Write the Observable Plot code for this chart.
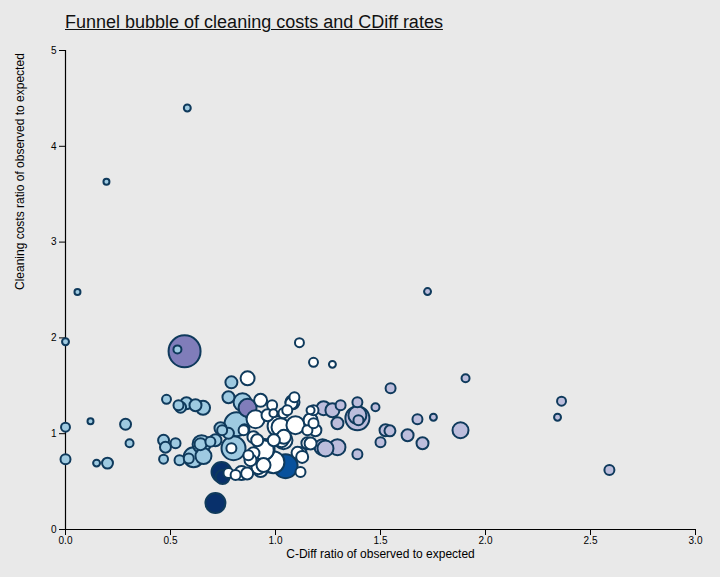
<!DOCTYPE html>
<html>
<head>
<meta charset="utf-8">
<script src="https://cdn.jsdelivr.net/npm/d3@7"></script>
<script src="https://cdn.jsdelivr.net/npm/@observablehq/plot@0.6"></script>
<style>
  html, body { margin: 0; padding: 0; background: #e9e9e9; }
  #wrap { position: relative; width: 720px; height: 577px; overflow: hidden; }
  #title { position: absolute; left: 65px; top: 12px; font: 18px "Liberation Sans", Arial, Helvetica, sans-serif; color: #111; text-decoration: underline; white-space: nowrap; }
  #chart { position: absolute; left: 0; top: 0; }
</style>
</head>
<body>
<div id="wrap">
  <div id="chart"></div>
  <div id="title">Funnel bubble of cleaning costs and CDiff rates</div>
</div>
<script>
// C-Diff ratio of observed to expected (x)
const cdiffRatio = [
  0.58, 0.195, 0.057, 0.00, 0.567, 0.533, 1.114, 1.181, 1.271, 1.724,
  1.905, 1.548, 2.343, 2.362, 2.590, 1.881, 1.676, 1.752, 1.629, 1.700,
  1.524, 1.545, 1.500, 0.00, 0.00, 0.119, 0.148, 0.200, 0.286, 0.305,
  0.481, 0.467, 0.476, 0.524, 0.467, 0.543, 0.548, 0.576, 0.619, 0.655,
  0.610, 0.657, 0.648, 0.643, 0.714, 0.738, 0.776, 0.790, 0.867, 0.776,
  0.843, 0.867, 0.929, 0.905, 0.814, 0.800, 0.790, 0.743, 0.748, 0.776,
  0.838, 0.714, 0.852, 0.895, 0.948, 0.895, 0.929, 0.990, 1.010, 1.048,
  1.081, 1.090, 0.962, 1.024, 1.095, 1.167, 1.190, 1.181, 1.229, 1.271,
  1.310, 1.390, 1.390, 1.390, 1.395, 1.476, 1.295, 1.390, 1.224, 1.295,
  1.029, 1.152, 1.119, 1.119, 0.919, 0.848, 1.076, 1.167, 1.038, 0.871,
  1.105, 0.943, 0.810, 0.990, 1.038, 1.152, 1.181, 0.538, 0.587, 0.690,
  0.746, 0.984, 1.056, 1.040, 0.913, 0.992, 0.944, 0.881, 0.865, 1.127,
  1.167, 1.238
];
// Cleaning costs ratio of observed to expected (y)
const costRatio = [
  4.40, 3.63, 2.48, 1.96, 1.86, 1.88, 1.95, 1.745, 1.724, 2.484,
  1.578, 1.474, 1.172, 1.339, 0.620, 1.036, 1.151, 1.172, 0.984, 0.901,
  1.036, 1.030, 0.911, 1.068, 0.734, 1.13, 0.693, 0.693, 1.099, 0.901,
  1.359, 0.932, 0.859, 0.901, 0.734, 0.724, 1.276, 1.318, 1.297, 1.270,
  0.755, 0.766, 0.891, 0.891, 0.932, 1.057, 1.005, 1.536, 1.578, 1.380,
  1.328, 1.270, 1.349, 1.151, 1.099, 0.849, 0.849, 0.599, 0.547, 0.589,
  0.589, 0.276, 1.047, 0.964, 0.839, 0.797, 0.620, 0.703, 1.078, 0.661,
  1.328, 1.380, 1.193, 1.068, 1.089, 1.141, 1.036, 1.245, 1.266, 1.245,
  1.297, 1.328, 1.161, 1.193, 1.141, 1.276, 1.109, 0.786, 0.859, 0.859,
  0.932, 0.901, 0.797, 0.599, 0.651, 1.036, 1.318, 1.245, 0.932, 0.776,
  0.800, 0.672, 0.568, 1.214, 1.214, 1.036, 1.109, 1.297, 0.742, 0.915,
  1.036, 1.297, 1.245, 0.967, 0.932, 0.932, 0.828, 0.724, 0.585, 0.758,
  0.898, 0.846
];
// Trust size (bubble area)
const trustSize = [
  12, 9, 9, 12, 256, 16, 20, 20, 12, 12,
  16, 25, 12, 20, 25, 64, 25, 12, 36, 36,
  36, 30, 25, 20, 25, 9, 12, 30, 30, 16,
  20, 30, 30, 25, 20, 25, 30, 36, 36, 49,
  100, 64, 81, 36, 36, 36, 30, 36, 49, 36,
  81, 81, 42, 81, 144, 144, 25, 100, 49, 25,
  49, 100, 25, 36, 100, 36, 49, 121, 100, 144,
  49, 25, 36, 81, 81, 49, 36, 25, 49, 49,
  25, 25, 144, 81, 25, 16, 36, 25, 64, 64,
  49, 36, 36, 25, 49, 25, 36, 16, 81, 25,
  36, 49, 25, 16, 25, 25, 25, 25, 25, 25,
  25, 25, 25, 49, 36, 36, 100, 36, 36, 36,
  36, 64
];
// Funnel band of each trust
const band = [
  "lower", "lower", "lower", "lower", "much higher", "lower", "within", "within", "within", "higher",
  "higher", "higher", "higher", "higher", "higher", "higher", "higher", "higher", "higher", "higher",
  "higher", "higher", "higher", "lower", "lower", "lower", "lower", "lower", "lower", "lower",
  "lower", "lower", "lower", "lower", "lower", "lower", "lower", "lower", "lower", "lower",
  "lower", "lower", "lower", "lower", "lower", "lower", "lower", "lower", "within", "lower",
  "lower", "much higher", "within", "within", "lower", "lower", "within", "much lower", "much lower", "within",
  "within", "much lower", "within", "within", "within", "within", "within", "within", "within", "low outlier",
  "within", "within", "within", "within", "within", "within", "within", "within", "higher", "higher",
  "higher", "higher", "higher", "higher", "higher", "higher", "higher", "higher", "higher", "higher",
  "within", "within", "within", "within", "within", "within", "within", "within", "within", "within",
  "within", "within", "within", "within", "within", "within", "within", "lower", "lower", "lower",
  "lower", "within", "within", "within", "within", "within", "within", "within", "within", "within",
  "within", "higher"
];
const bandNames = ["much lower", "low outlier", "lower", "within", "higher", "much higher"];
const bandColors = ["#08306b", "#08519c", "#9ecae1", "#ffffff", "#bcbddc", "#807dba"];

const xTicks = [0, 0.5, 1, 1.5, 2, 2.5, 3];
const yTicks = [0, 1, 2, 3, 4, 5];

const trusts = cdiffRatio.map((c, i) => ({cdiff: c, cost: costRatio[i], size: trustSize[i], band: band[i]}));

const chart = Plot.plot({
  width: 720,
  height: 577,
  marginTop: 50,
  marginLeft: 65,
  marginRight: 25,
  marginBottom: 48,
  style: {background: "transparent", fontFamily: "'Liberation Sans', Arial, Helvetica, sans-serif", fontSize: "10px", color: "#000", overflow: "visible"},
  x: {domain: [0, 3]},
  y: {domain: [0, 5]},
  r: {type: "sqrt", domain: [0, 256], range: [0, 16]},
  color: {domain: bandNames, range: bandColors},
  marks: [
    Plot.axisX({ticks: xTicks, tickFormat: d3.format(".1f"), tickSize: 6, tickPadding: 1, label: null, stroke: "#000", fill: "#000"}),
    Plot.axisY({ticks: yTicks, tickFormat: d3.format("d"), tickSize: 6, tickPadding: 3, label: null, stroke: "#000", fill: "#000"}),
    Plot.ruleX([0], {stroke: "#000", strokeWidth: 1.2}),
    Plot.ruleY([0], {stroke: "#000", strokeWidth: 1.2}),
    Plot.dot(trusts, {x: "cdiff", y: "cost", r: "size", fill: "band", stroke: "#0f3a5c", strokeWidth: 2}),
    Plot.text(["C-Diff ratio of observed to expected"], {frameAnchor: "bottom", dy: 28, fontSize: 12, fill: "#000"}),
    Plot.text(["Cleaning costs ratio of observed to expected"], {frameAnchor: "left", rotate: -90, dx: -45, fontSize: 12, fill: "#000"})
  ]
});
document.getElementById("chart").appendChild(chart);
</script>
</body>
</html>
